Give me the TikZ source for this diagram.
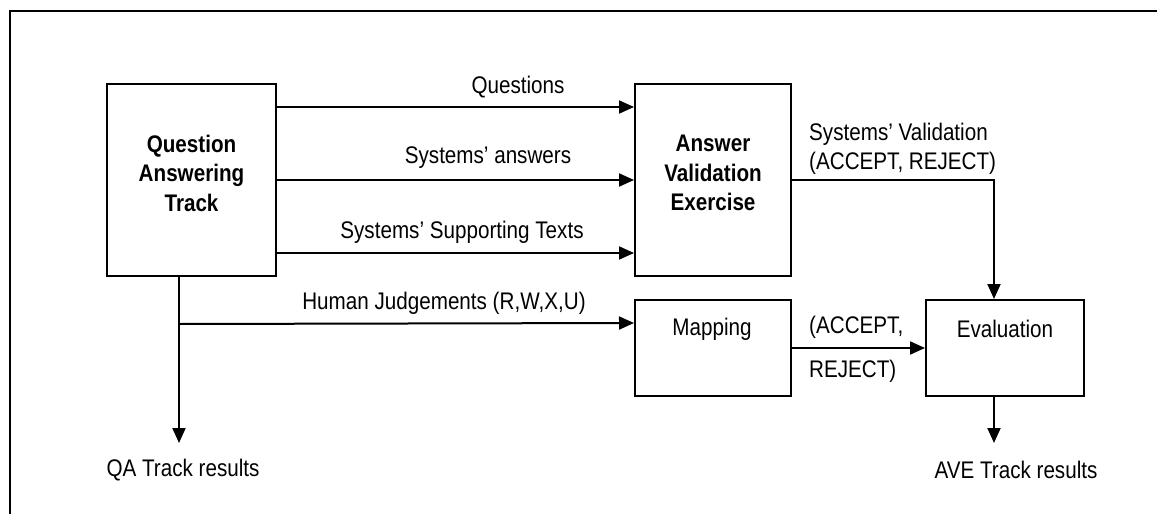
\documentclass[tikz,border=0pt]{standalone}
\usepackage{fontspec}
\setmainfont{Liberation Sans}[FakeStretch=0.86]
\usetikzlibrary{arrows.meta}
\begin{document}
\begin{tikzpicture}[x=1pt,y=-1pt,
  box/.style={draw,line width=2pt,inner sep=0pt},
  conn/.style={line width=2pt},
  arr/.style={conn,-{Triangle[length=15pt,width=13pt]}},
  txt/.style={font=\fontsize{24}{29.5}\selectfont,inner sep=0pt,align=center},
  btxt/.style={font=\fontsize{24}{29.5}\selectfont\bfseries,inner sep=0pt,align=center},
  ltxt/.style={font=\fontsize{24}{29.5}\selectfont,inner sep=0pt,anchor=west,align=left}]
\useasboundingbox (0,0) rectangle (1157,514);
\fill[white] (0,0) rectangle (1157,514);
% partial frame
\draw[line width=2pt] (10,514) -- (10,11) -- (1157,11);

% boxes
\node[box,minimum width=169pt,minimum height=192pt] (qa) at (191.5,180) {};
\node[btxt] (qat) at (191.5,173) {Question\\Answering\\Track};
\node[box,minimum width=156pt,minimum height=192pt] (ave) at (713,180) {};
\node[btxt] (avet) at (713,173) {Answer\\Validation\\Exercise};
\node[box,minimum width=156pt,minimum height=96pt] (map) at (713,348) {};
\node[txt] (mapt) at (712,329) {Mapping};
\node[box,minimum width=158pt,minimum height=96pt] (eval) at (1005,348) {};
\node[txt] (evalt) at (1005,329) {Evaluation};

% output texts
\node[txt] (qares) at (183,470) {QA Track results};
\node[txt] (aveseres) at (1016,470) {AVE Track results};

% connectors QA -> AVE
\draw[arr] ([yshift=-24pt]qa.north east) -- ([yshift=-24pt]ave.north west);
\draw[arr] (qa.east) -- (ave.west);
\draw[arr] ([yshift=24pt]qa.south east) -- ([yshift=24pt]ave.south west);

% labels
\node[txt] (lq) at (518,87) {Questions};
\node[txt] (la) at (488,158) {Systems’ answers};
\node[txt] (ls) at (462,232) {Systems’ Supporting Texts};
\node[txt] (lh) at (444,303) {Human Judgements (R,W,X,U)};

% QA down and branch
\coordinate (qab) at ([xshift=-12.5pt]qa.south);
\coordinate (qaend) at (179,443);
\coordinate (jn) at (179,324);
\draw[arr] (qab) -- (qaend);
\draw[arr] (jn) -- ([yshift=-24pt]map.north west);

% AVE -> Evaluation
\coordinate (evin) at ([xshift=-11pt]eval.north);
\draw[arr] (ave.east) -| (evin);
\node[ltxt] (lv) at (809,149) {Systems’ Validation\\(ACCEPT, REJECT)};

% Mapping -> Evaluation
\draw[arr] (map.east) -- (eval.west);
\node[ltxt] (lm1) at (809,327) {(ACCEPT,};
\node[ltxt] (lm2) at (809,371) {REJECT)};

% Evaluation down
\coordinate (evout) at ([xshift=-11pt]eval.south);
\coordinate (evend) at (994,443);
\draw[arr] (evout) -- (evend);
\end{tikzpicture}
\end{document}
